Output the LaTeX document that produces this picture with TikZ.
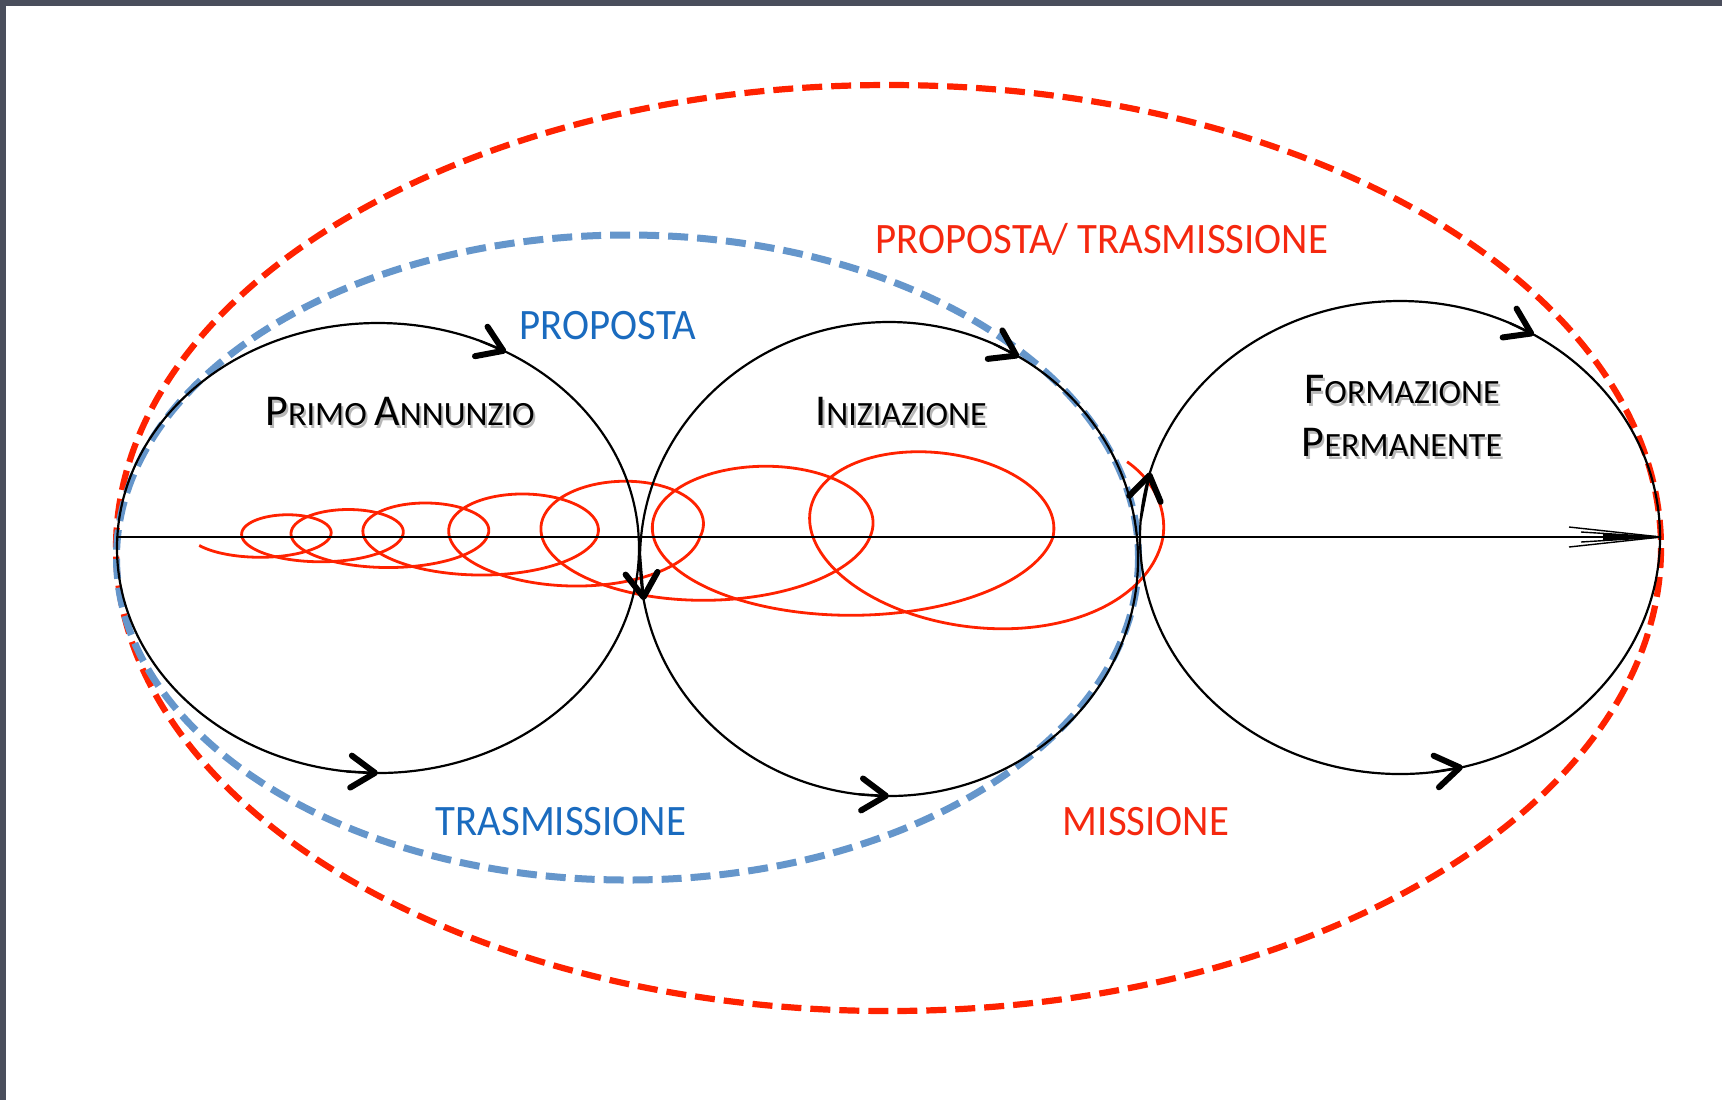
\documentclass[tikz,border=0pt]{standalone}
\usepackage{fontspec}
\setmainfont{Carlito}
\usetikzlibrary{arrows.meta}
\definecolor{framec}{HTML}{4A4E5C}
\definecolor{redd}{HTML}{FF2200}
\definecolor{bluedash}{HTML}{6596CB}
\definecolor{bluetxt}{HTML}{1A6BBF}
\definecolor{redtxt}{HTML}{F5280F}
\newcommand{\scap}[2]{{\fontsize{22pt}{22pt}\selectfont #1}{\fontsize{17pt}{17pt}\selectfont #2}}
\newcommand{\ellarrow}[6]{%
  \path (#2) ++(#5:#3 and #4) coordinate (#1s) (#2) ++(#6:#3 and #4) coordinate (#1e);
  \draw[barb] (#1s) -- (#1e);}
\newcommand{\shlabel}[3]{%
  \node[shd] at (#2) {#3};
  \node[lbl] (#1) at (#2) {#3};}
\begin{document}
\begin{tikzpicture}[x=0.5pt,y=-0.5pt,
  redell/.style={draw=redd, line width=3.1pt, dash pattern=on 10pt off 4.5pt},
  blueell/.style={draw=bluedash, line width=3.5pt, dash pattern=on 10pt off 4.5pt},
  cyc/.style={draw=black, line width=1.1pt},
  barb/.style={draw=black, line width=1.1pt, -{Straight Barb[length=12pt,width=16pt,line width=3pt,round]}},
  spiral/.style={draw=redd, line width=1.4pt, line join=round},
  axisline/.style={draw=black, line width=1pt},
  tipline/.style={draw=black, line width=0.7pt},
  lbl/.style={inner sep=0pt, anchor=base, text=black, font=\fontsize{17pt}{17pt}\selectfont},
  shd/.style={inner sep=0pt, anchor=base, text=black, opacity=0.28, xshift=1pt, yshift=-1.5pt, font=\fontsize{17pt}{17pt}\selectfont},
  clab/.style={inner sep=0pt, anchor=base, font=\fontsize{21.7pt}{21.7pt}\selectfont},
]
\useasboundingbox (0,0) rectangle (1722,1100);
\fill[white] (0,0) rectangle (1722,1100);
\fill[framec] (0,0) rectangle (1722,6);
\fill[framec] (0,0) rectangle (6,1100);

% centres
\coordinate (cR) at (888.5,548);
\coordinate (cB) at (627.5,557.5);
\coordinate (c1) at (378,548);
\coordinate (c2) at (889,559);
\coordinate (c3) at (1400,537.5);

% dashed ellipses
\draw[redell] (cR) ellipse [x radius=772.5, y radius=463];
\draw[blueell] (cB) ellipse [x radius=511, y radius=322.5];

% spiral
\foreach \Xa/\aa/\ba/\Xb/\ab/\bb/\smin/\smax in {
 210/50/18/275/55/21/0.57/1,
 275/55/21/333/69/26/0/1,
 333/69/26/403/84/32/0/1,
 403/84/32/503/94/40/0/1,
 503/94/40/595/105/52/0/1,
 595/105/52/732/138/67/0/1,
 732/138/67/883/170/82/0/1,
 883/170/82/1038/125/95/0/1,
 1038/125/95/1120/125/100/0/0.145}
{\draw[spiral] plot[domain=\smin:\smax, samples=90, variable=\s, smooth]
  ({\Xa+\s*(\Xb-\Xa)+(\aa+\s*(\ab-\aa))*cos(360*\s)},
   {537-(\ba+\s*(\bb-\ba))*sin(360*\s)});}

% circles
\draw[cyc] (c1) ellipse [x radius=261, y radius=225];
\draw[cyc] (c2) ellipse [x radius=249, y radius=237];
\draw[cyc] (c3) ellipse [x radius=260, y radius=236.5];

% axis with thin arrow tip
\coordinate (axL) at (117,537);
\coordinate (axR) at (1661,537);
\draw[axisline] (axL) -- (axR);
\draw[tipline] (axR) -- ++(-92,-10);
\draw[tipline] (axR) -- ++(-92,10);
\draw[tipline] (axR) -- ++(-80,-5);
\draw[tipline] (axR) -- ++(-80,5);
\fill[black] (axR) -- ++(-58,-3.5) -- ++(0,7) -- cycle;

% arrows on circles
\ellarrow{a1t}{c1}{261}{225}{-67}{-60.6}
\ellarrow{a1b}{c1}{261}{225}{97}{90}
\ellarrow{a2l}{c2}{249}{237}{181}{170}
\ellarrow{a2t}{c2}{249}{237}{-65}{-58.5}
\ellarrow{a2b}{c2}{249}{237}{97}{90}
\ellarrow{a3l}{c3}{260}{236.5}{184}{196}
\ellarrow{a3t}{c3}{260}{236.5}{-65}{-59}
\ellarrow{a3b}{c3}{260}{236.5}{83}{76}

% black labels
\shlabel{pa}{400,425}{\scap{P}{RIMO} \scap{A}{NNUNZIO}}
\shlabel{ini}{901,425}{\scap{I}{NIZIAZIONE}}
\shlabel{form}{1402,403}{\scap{F}{ORMAZIONE}}
\shlabel{perm}{1402,456}{\scap{P}{ERMANENTE}}

% coloured labels
\node[clab, text=bluetxt] (prop) at (608,339) {\scalebox{0.94}[1]{PROPOSTA}};
\node[clab, text=redtxt] (proptr) at (1102,253) {\scalebox{0.94}[1]{PROPOSTA/ TRASMISSIONE}};
\node[clab, text=bluetxt] (tras) at (561,835) {\scalebox{0.94}[1]{TRASMISSIONE}};
\node[clab, text=redtxt] (miss) at (1146,835) {\scalebox{0.94}[1]{MISSIONE}};
\end{tikzpicture}
\end{document}
